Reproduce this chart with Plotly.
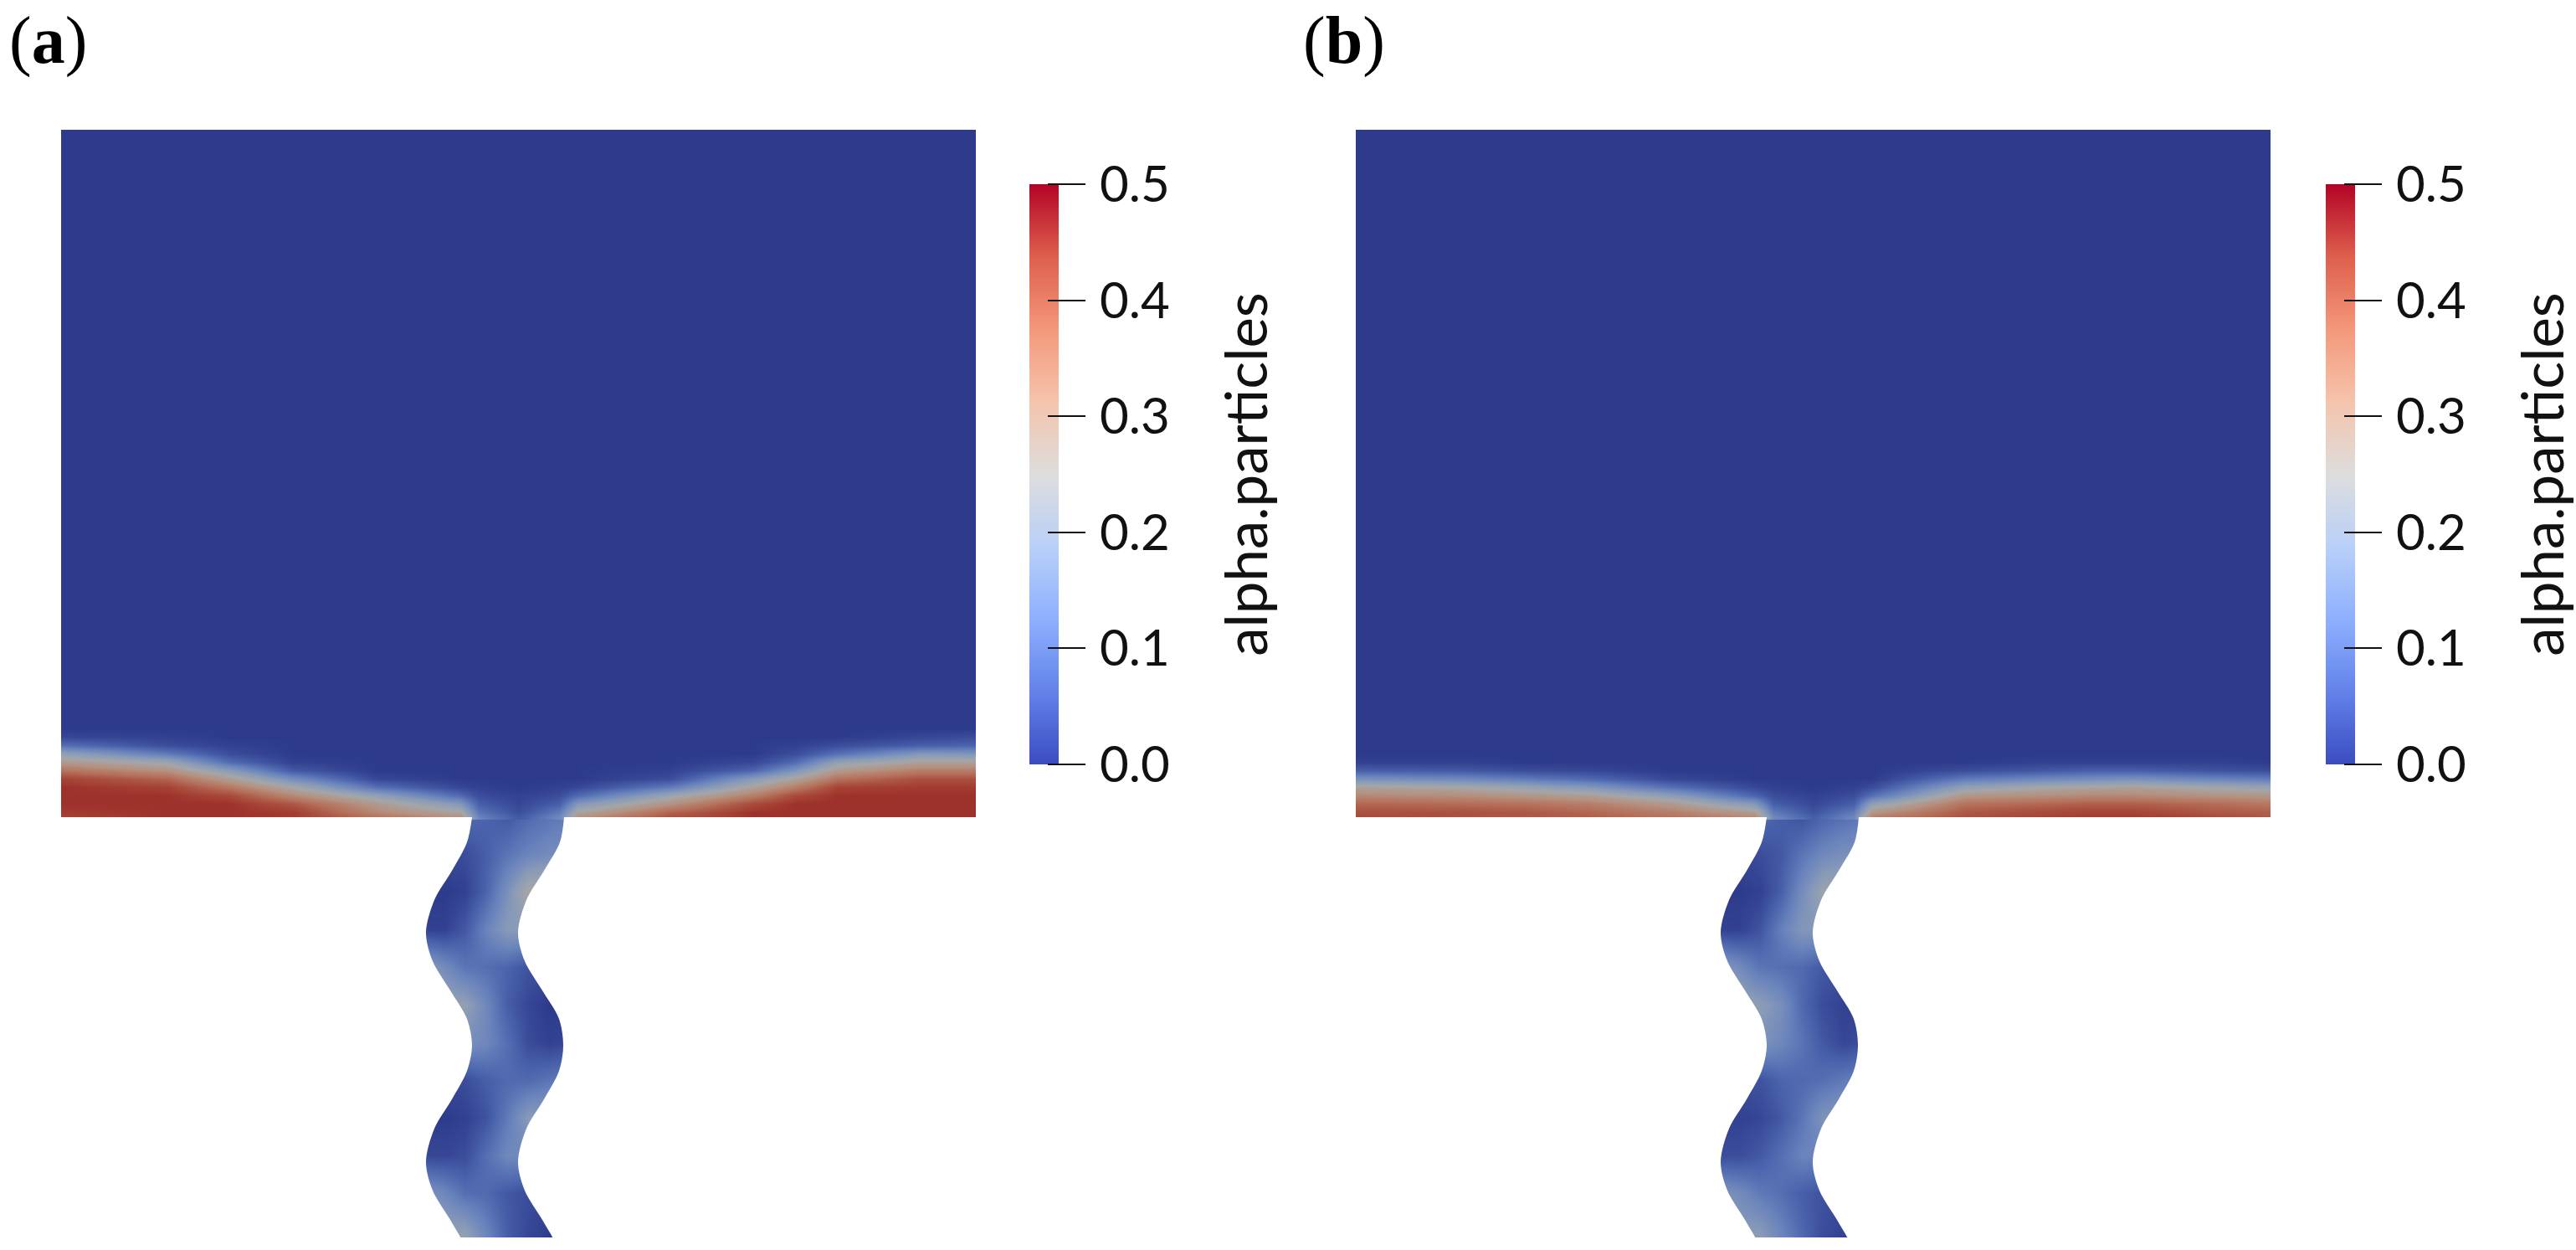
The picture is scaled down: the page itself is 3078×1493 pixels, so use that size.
import plotly.graph_objects as go

W, H = 3078, 1493

# ---- stations (picture pixels of panel a, shared by both panels through their axes)
chamber_x = [73, 200, 275, 350, 450, 550, 572, 620, 668, 690, 800, 900, 950, 1000, 1100, 1166]
chamber_y = [155, 870, 880, 890, 900, 910, 920, 930, 940, 950, 960, 970, 976]
neck_x = [505, 530, 555, 580, 605, 630, 655, 680]
neck_y = [976, 1020, 1065, 1110, 1155, 1200, 1245, 1290, 1335, 1380, 1425, 1478]

# ---- wall of the wavy channel (the last two stations lie below the visible end)
wall_y = [976, 1006, 1040, 1075, 1114, 1148, 1183, 1217, 1249, 1279, 1313, 1348, 1388, 1422, 1457, 1490, 1525, 1560]
wall_x_left = [564, 558, 540, 519, 509, 517, 538, 558, 564, 558, 540, 519, 509, 517, 538, 556, 564, 564]
wall_x_right = [674, 669, 650, 629, 619, 627, 648, 668, 673, 668, 650, 629, 619, 627, 648, 666, 673, 673]

# ---- alpha.particles, panel (a)
chamber_a = [
    [0, 0, 0, 0, 0, 0, 0, 0, 0, 0, 0, 0, 0, 0, 0, 0],
    [0, 0, 0, 0, 0, 0, 0, 0, 0, 0, 0, 0, 0, 0, 0, 0],
    [.02, .01, 0, 0, 0, 0, 0, 0, 0, 0, 0, 0, 0, 0, .02, .03],
    [.09, .03, .01, 0, 0, 0, 0, 0, 0, 0, 0, 0, .01, .03, .06, .07],
    [.21, .11, .03, 0, 0, 0, 0, 0, 0, 0, 0, 0, .03, .09, .18, .17],
    [.29, .23, .08, .01, 0, 0, 0, 0, 0, 0, 0, .02, .08, .21, .27, .27],
    [.37, .31, .19, .05, 0, 0, 0, 0, 0, 0, .01, .07, .17, .29, .35, .35],
    [.44, .39, .28, .15, .02, 0, 0, 0, 0, 0, .03, .19, .27, .37, .42, .42],
    [.46, .44, .36, .25, .09, .02, .01, 0, .01, .02, .11, .27, .35, .44, .45, .45],
    [.46, .46, .43, .33, .21, .08, .03, .01, .03, .08, .23, .35, .43, .46, .46, .46],
    [.46, .46, .46, .41, .29, .18, .06, .02, .06, .18, .31, .43, .46, .46, .46, .46],
    [.45, .46, .46, .45, .33, .26, .10, .03, .11, .26, .39, .46, .46, .46, .46, .46],
    [.44, .46, .46, .45, .37, .31, .13, .05, .14, .31, .42, .46, .46, .46, .46, .46],
]
neck_a = [
    [.07, .07, .08, .07, .05, .08, .10, .12],
    [.02, .02, .03, .06, .10, .13, .15, .15],
    [0, 0, .01, .07, .16, .26, .27, .27],
    [.01, .01, .05, .13, .19, .19, .18, .18],
    [.20, .15, .10, .09, .07, .04, .03, .03],
    [.22, .22, .21, .14, .06, .02, 0, 0],
    [.16, .16, .16, .14, .09, .03, .01, .02],
    [.02, .02, .03, .06, .08, .08, .10, .12],
    [0, 0, .01, .04, .11, .19, .20, .20],
    [.02, .02, .03, .09, .14, .14, .13, .13],
    [.17, .14, .09, .08, .05, .03, .02, .02],
    [.22, .22, .22, .14, .06, .02, 0, 0],
]

# ---- alpha.particles, panel (b)
chamber_b = [
    [0, 0, 0, 0, 0, 0, 0, 0, 0, 0, 0, 0, 0, 0, 0, 0],
    [0, 0, 0, 0, 0, 0, 0, 0, 0, 0, 0, 0, 0, 0, 0, 0],
    [0, 0, 0, 0, 0, 0, 0, 0, 0, 0, 0, 0, 0, 0, 0, 0],
    [0, 0, 0, 0, 0, 0, 0, 0, 0, 0, 0, 0, 0, 0, 0, 0],
    [0, 0, 0, 0, 0, 0, 0, 0, 0, 0, 0, 0, 0, 0, 0, 0],
    [.01, .01, 0, 0, 0, 0, 0, 0, 0, 0, 0, .01, .01, .01, .01, 0],
    [.06, .05, .03, .02, 0, 0, 0, 0, 0, 0, .03, .05, .06, .06, .04, .03],
    [.16, .14, .11, .08, .02, 0, 0, 0, 0, 0, .11, .14, .15, .16, .13, .11],
    [.27, .25, .22, .18, .09, .02, .01, 0, .01, .03, .21, .25, .26, .27, .24, .22],
    [.33, .32, .30, .28, .20, .07, .03, .01, .03, .09, .30, .32, .33, .33, .31, .30],
    [.39, .38, .37, .35, .29, .18, .06, .02, .06, .21, .37, .39, .40, .40, .38, .36],
    [.42, .42, .41, .39, .35, .28, .11, .04, .11, .30, .41, .43, .44, .44, .41, .40],
    [.43, .42, .41, .40, .37, .33, .14, .06, .14, .35, .42, .44, .45, .45, .43, .41],
]
neck_b = [
    [.07, .07, .08, .06, .04, .07, .09, .11],
    [.02, .02, .03, .05, .10, .14, .16, .16],
    [0, 0, .01, .06, .15, .23, .24, .24],
    [.01, .01, .04, .12, .18, .18, .17, .17],
    [.19, .15, .10, .09, .08, .05, .04, .04],
    [.22, .22, .20, .16, .08, .03, .01, .01],
    [.17, .17, .17, .14, .10, .05, .02, .03],
    [.03, .03, .04, .07, .08, .09, .11, .13],
    [.01, .01, .02, .05, .10, .17, .19, .19],
    [.03, .03, .05, .09, .13, .13, .12, .12],
    [.17, .15, .11, .09, .06, .04, .03, .03],
    [.20, .20, .20, .14, .08, .03, .01, .01],
]

# ---- colour legend
legend_levels = [0, .025, .05, .075, .1, .125, .15, .175, .2, .225, .25, .275, .3, .325, .35, .375, .4, .425, .45, .475, .5]
legend_ticks = [0, .1, .2, .3, .4, .5]
legend_labels = ["0.0", "0.1", "0.2", "0.3", "0.4", "0.5"]
legend_title = "alpha.particles"
panel_labels = ["(<b>a</b>)", "(<b>b</b>)"]

bar_scale = [[0, "rgb(59,76,192)"], [.125, "rgb(98,130,234)"], [.25, "rgb(141,176,254)"],
             [.375, "rgb(184,208,249)"], [.5, "rgb(221,221,221)"], [.625, "rgb(245,196,173)"],
             [.75, "rgb(244,152,122)"], [.875, "rgb(222,96,77)"], [1, "rgb(180,4,38)"]]
field_scale = [[0, "rgb(46,59,140)"], [.125, "rgb(72,96,170)"], [.25, "rgb(104,130,188)"],
               [.375, "rgb(136,154,184)"], [.5, "rgb(164,166,168)"], [.625, "rgb(181,145,128)"],
               [.75, "rgb(181,112,90)"], [.9, "rgb(163,60,48)"], [1, "rgb(134,3,28)"]]

FONT = "Lato"
fig = go.Figure()


def px_x(a, b):
    return [a / W, b / W]


def px_y(top, bottom):
    return [1 - bottom / H, 1 - top / H]


def add_panel(idx, chamber, neck, left, bar_left):
    s = "" if idx == 1 else str(idx)
    xa, ya = "x" + s, "y" + s
    for xs, ys, zs in ((neck_x, neck_y, neck), (chamber_x, chamber_y, chamber)):
        fig.add_trace(go.Heatmap(x=xs, y=ys, z=zs, zmin=0, zmax=.5, colorscale=field_scale,
                                 zsmooth="best", showscale=False, xaxis=xa, yaxis=ya))
    # white outside the channel walls
    for wx, far in ((wall_x_left, -300), (wall_x_right, 1500)):
        fig.add_trace(go.Scatter(x=wx + [far, far], y=wall_y + [1600, 976], mode="lines",
                                 fill="toself", fillcolor="white",
                                 line=dict(width=0, shape="spline", smoothing=0.9), hoverinfo="skip",
                                 showlegend=False, xaxis=xa, yaxis=ya))
    hidden = dict(visible=False, showgrid=False, zeroline=False, automargin=False)
    fig.layout["xaxis" + s] = dict(domain=px_x(left, left + 1093), range=[73, 1166], anchor=ya, **hidden)
    fig.layout["yaxis" + s] = dict(domain=px_y(155, 1478), range=[1478, 155], anchor=xa, **hidden)

    # colour legend as its own small axes
    t = idx + 2
    fig.add_trace(go.Heatmap(x=[0, 1], y=legend_levels, z=[[v, v] for v in legend_levels], zmin=0, zmax=.5,
                             colorscale=bar_scale, zsmooth="best", showscale=False,
                             xaxis=f"x{t}", yaxis=f"y{t}"))
    fig.layout[f"xaxis{t}"] = dict(domain=px_x(bar_left, bar_left + 35), range=[0, 1], anchor=f"y{t}", **hidden)
    fig.layout[f"yaxis{t}"] = dict(domain=px_y(220, 913), range=[0, .5], anchor="free",
                                   position=(bar_left + 21) / W, side="right", showgrid=False, zeroline=False,
                                   automargin=False,
                                   showline=False, ticks="outside", ticklen=45, tickwidth=2, tickcolor="#111",
                                   tickvals=legend_ticks, ticktext=legend_labels, ticklabelstandoff=5,
                                   tickfont=dict(family=FONT, size=60, color="#111"),
                                   title=dict(text=legend_title, standoff=68,
                                              font=dict(family=FONT, size=69, color="#111")))


add_panel(1, chamber_a, neck_a, 73, 1230)
add_panel(2, chamber_b, neck_b, 1620, 2779)

for txt, x in zip(panel_labels, (9, 1555)):
    fig.add_annotation(text=txt, xref="paper", yref="paper", x=x / W, y=1 - 49 / H, xanchor="left", yanchor="middle",
                       showarrow=False, font=dict(family="Liberation Serif", size=80, color="black"))

fig.update_layout(width=W, height=H, margin=dict(l=0, r=0, t=0, b=0), autosize=False,
                  paper_bgcolor="white", plot_bgcolor="white", showlegend=False)
fig.write_html("out.html", config=dict(displayModeBar=False), post_script="document.body.style.margin='0';")
